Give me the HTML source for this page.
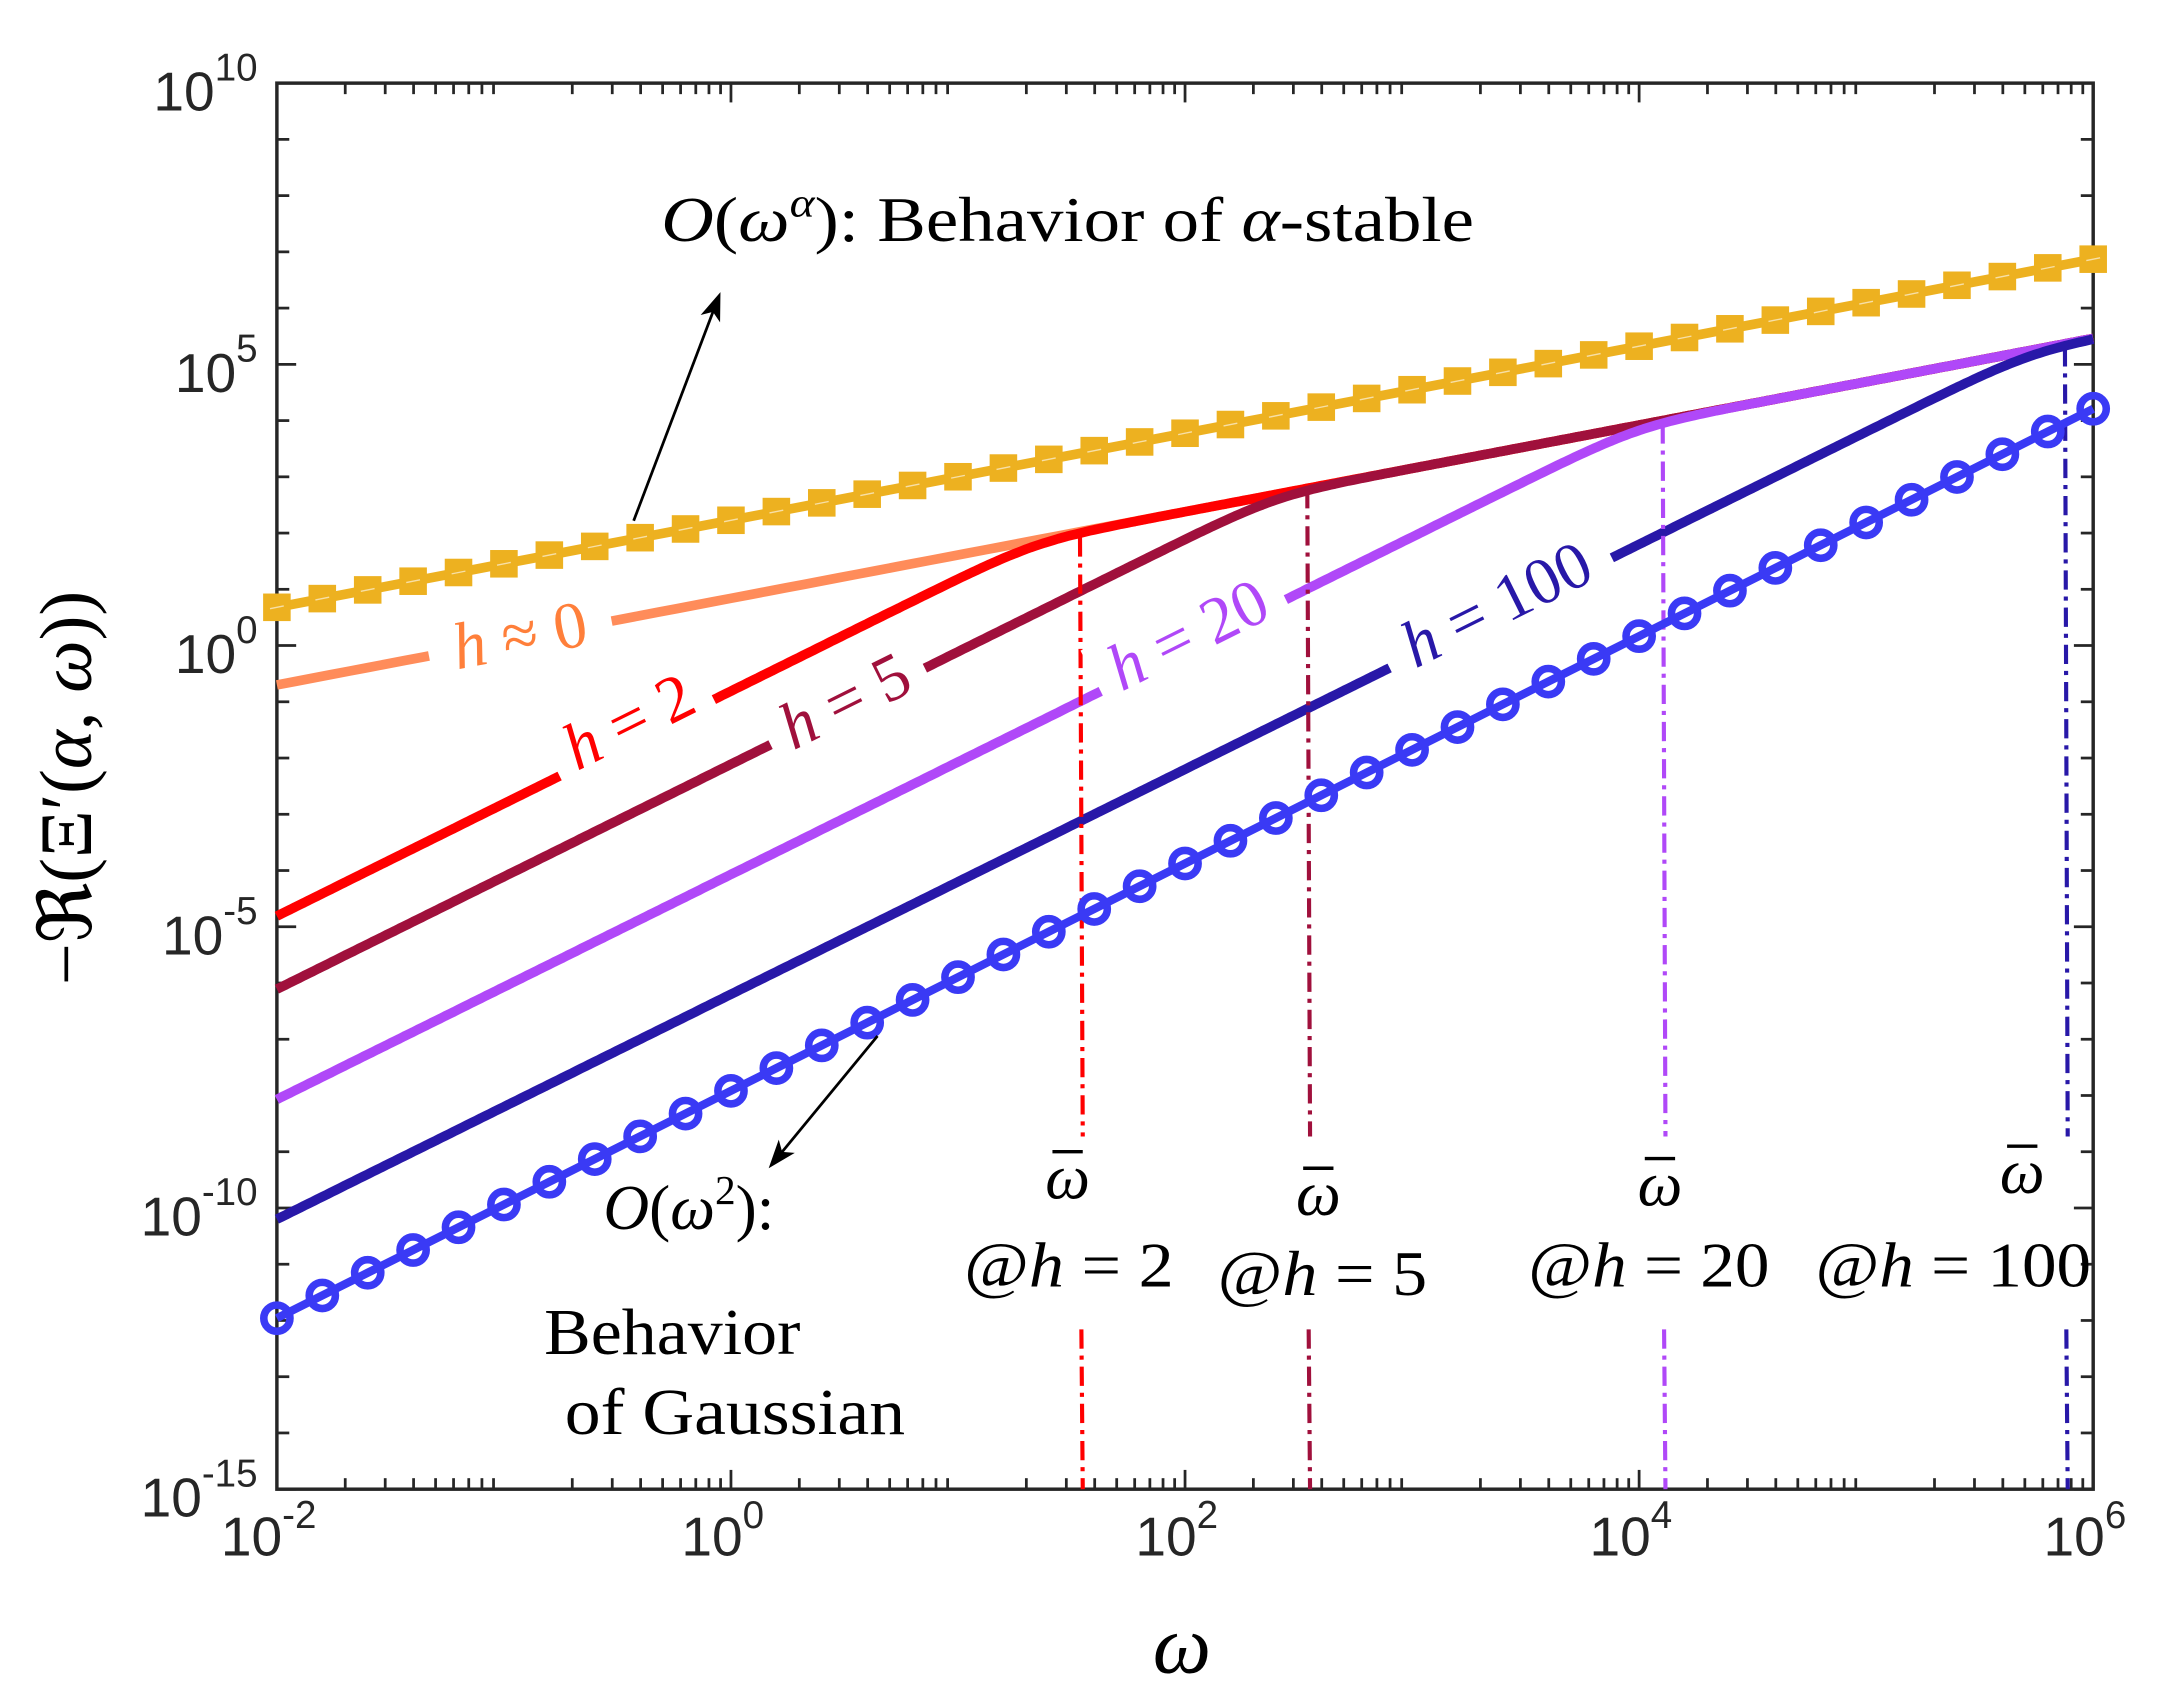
<!DOCTYPE html>
<html><head><meta charset="utf-8"><style>
html,body{margin:0;padding:0;background:#fff;}
svg{display:block;}
.t{font-family:"Liberation Sans",sans-serif;fill:#262626;}
.m{font-family:"Liberation Serif",serif;fill:#000;}
</style></head><body>
<svg id="s" width="2160" height="1689" viewBox="0 0 1568 1226" xmlns="http://www.w3.org/2000/svg">
<rect width="1568" height="1226" fill="#fff"/>
<g id="g"></g>
</svg>
<script>
const L=201,R=1519.5,T=60.3,B=1081;
const X=v=>L+(v+2)*(R-L)/8, Y=v=>T+(10-v)*(B-T)/25;
let h='';
for(let d=-2;d<6;d++){for(let k=2;k<10;k++){const x=X(d+Math.log10(k));const len=8;
 h+=`<line x1="${x}" y1="${B}" x2="${x}" y2="${B-len}" stroke="#262626" stroke-width="2"/><line x1="${x}" y1="${T}" x2="${x}" y2="${T+len}" stroke="#262626" stroke-width="2"/>`;}}
for(let d=-2;d<=6;d+=2){const x=X(d);h+=`<line x1="${x}" y1="${B}" x2="${x}" y2="${B-14}" stroke="#262626" stroke-width="2"/><line x1="${x}" y1="${T}" x2="${x}" y2="${T+14}" stroke="#262626" stroke-width="2"/>`;
 h+=`<text class="t" x="${x-6}" y="${B+48}" font-size="40" text-anchor="middle">10<tspan dy="-20" font-size="28">${d}</tspan></text>`;}
for(let v=-15;v<=10;v++){const y=Y(v);const len=v%5==0?14:9;
 h+=`<line x1="${L}" y1="${y}" x2="${L+len}" y2="${y}" stroke="#262626" stroke-width="2"/><line x1="${R}" y1="${y}" x2="${R-len}" y2="${y}" stroke="#262626" stroke-width="2"/>`;
 if(v%5==0){h+=`<text class="t" x="${L-14}" y="${y+20}" font-size="40" text-anchor="end">10<tspan dy="-22" font-size="28">${v}</tspan></text>`;}}
h+=`<rect x="${L}" y="${T}" width="${R-L}" height="${B-T}" fill="none" stroke="#262626" stroke-width="2.5"/>`;
const env=x=>-0.7+0.77*(x+2);
function curve(a,p){let pts=[];for(let i=0;i<=400;i++){const x=-2+8*i/400;const l1=a+2*(x+2),l2=env(x);
 const y=-Math.log10(Math.pow(10,-p*l1)+Math.pow(10,-p*l2))/p;pts.push(X(x).toFixed(1)+','+Y(y).toFixed(1));}return pts.join(' ');}
function pl(pts,c,w){return `<polyline points="${pts}" fill="none" stroke="${c}" stroke-width="${w}" stroke-linejoin="round"/>`;}
let sal=[];for(let i=0;i<=100;i++){const x=-2+8*i/100;sal.push(X(x)+','+Y(env(x)));}
h+=pl(sal.join(' '),'#FF8C5A',7);
h+=pl(curve(-4.81,3),'#FF0000',7);
h+=pl(curve(-6.11,3),'#A0103C',7);
h+=pl(curve(-8.07,3),'#B048F8',7);
h+=pl(curve(-10.2,3),'#2818A8',7);
function vl(x,c,y1){const d='14 5 3 5';h+=`<line x1="${x}" y1="${y1}" x2="${x+2}" y2="825" stroke="${c}" stroke-width="3" stroke-dasharray="${d}"/><line x1="${x+1}" y1="965" x2="${x+2}" y2="${B}" stroke="${c}" stroke-width="3" stroke-dasharray="${d}"/>`;}
vl(784,'#FF0000',390);vl(949,'#A0103C',355);vl(1207,'#B048F8',308);vl(1499,'#2818A8',252);
let yp=[],yl=[];for(let i=0;i<=40;i++){const x=-2+i*0.2;const y=0.68+(6.87-0.68)*(x+2)/8;yp.push(X(x)+','+Y(y));yl.push([X(x),Y(y)]);}
h+=pl(yp.join(' '),'#EDB120',7);
yl.forEach(p=>{h+=`<rect x="${p[0]-10}" y="${p[1]-10}" width="20" height="20" fill="#EDB120"/><line x1="${p[0]-5}" y1="${p[1]+1}" x2="${p[0]+5}" y2="${p[1]-1}" stroke="#fff" stroke-width="1" opacity="0.6"/>`;});
let bp=[],bl=[];for(let i=0;i<=40;i++){const x=-2+i*0.2;const y=-11.96+(4.21+11.96)*(x+2)/8;bp.push(X(x)+','+Y(y));bl.push([X(x),Y(y)]);}
h+=pl(bp.join(' '),'#3A3AF5',6);
bl.forEach(p=>{h+=`<circle cx="${p[0]}" cy="${p[1]}" r="9.5" fill="none" stroke="#3A3AF5" stroke-width="5.5"/>`;});
function lab(x,y,ang,txt,c,w){h+=`<g transform="translate(${x},${y}) rotate(${ang})"><rect x="${-w/2}" y="-28" width="${w}" height="46" fill="#fff"/><text class="m" x="0" y="12" font-size="48" text-anchor="middle" style="fill:${c}">${txt}</text></g>`;}
lab(378,465,-10.8,'<tspan font-style="italic">h</tspan> ≈ 0','#FF7F3A',135);
lab(458,527,-26.4,'<tspan font-style="italic">h</tspan> = 2','#FF0000',125);
lab(615,512,-26.4,'<tspan font-style="italic">h</tspan> = 5','#A0103C',125);
lab(864,464,-26.4,'<tspan font-style="italic">h</tspan> = 20','#B048F8',150);
lab(1088,442,-26.4,'<tspan font-style="italic">h</tspan> = 100','#2818A8',180);
function arr(x1,y1,x2,y2){const a=Math.atan2(y2-y1,x2-x1);const s=22,w=0.35;
 h+=`<line x1="${x1}" y1="${y1}" x2="${x2-Math.cos(a)*10}" y2="${y2-Math.sin(a)*10}" stroke="#000" stroke-width="2"/>`;
 h+=`<polygon points="${x2},${y2} ${x2-s*Math.cos(a-w)},${y2-s*Math.sin(a-w)} ${x2-s*0.7*Math.cos(a)},${y2-s*0.7*Math.sin(a)} ${x2-s*Math.cos(a+w)},${y2-s*Math.sin(a+w)}" fill="#000"/>`;}
arr(460,378,523,212);arr(637,752,558,848);
h+=`<text class="m" x="480" y="175" font-size="46" textLength="590" lengthAdjust="spacingAndGlyphs"><tspan font-style="italic">O</tspan>(<tspan font-style="italic">ω</tspan><tspan dy="-18" font-size="30" font-style="italic">α</tspan><tspan dy="18">): Behavior of </tspan><tspan font-style="italic">α</tspan>-stable</text>`;
h+=`<text class="m" x="438" y="892" font-size="46"><tspan font-style="italic">O</tspan>(<tspan font-style="italic">ω</tspan><tspan dy="-18" font-size="30">2</tspan><tspan dy="18">):</tspan></text>`;
h+=`<text class="m" x="395" y="983" font-size="48" textLength="186" lengthAdjust="spacingAndGlyphs">Behavior</text><text class="m" x="410" y="1041" font-size="48" textLength="247" lengthAdjust="spacingAndGlyphs">of Gaussian</text>`;
[[775,870],[957,882],[1205,875],[1468,866]].forEach(a=>{
 h+=`<text class="m" x="${a[0]}" y="${a[1]}" font-size="46" font-style="italic" text-anchor="middle">ω</text><line x1="${a[0]-11}" y1="${a[1]-34}" x2="${a[0]+11}" y2="${a[1]-34}" stroke="#000" stroke-width="2.5"/>`;});
[[776,934,'2',152],[960,940,'5',152],[1197,934,'20',175],[1418,934,'100',200]].forEach(a=>{
 h+=`<text class="m" x="${a[0]}" y="${a[1]}" font-size="46" text-anchor="middle" textLength="${a[3]}" lengthAdjust="spacingAndGlyphs">@<tspan font-style="italic">h</tspan> = ${a[2]}</text>`;});
h+=`<text class="m" x="858" y="1214" font-size="60" font-style="italic" text-anchor="middle">ω</text>`;
h+=`<text class="m" transform="translate(66,572) rotate(-90)" font-size="54" text-anchor="middle">−ℜ(Ξ′(<tspan font-style="italic">α</tspan>, <tspan font-style="italic">ω</tspan>))</text>`;
document.getElementById('g').innerHTML=h;
</script>
</body></html>
